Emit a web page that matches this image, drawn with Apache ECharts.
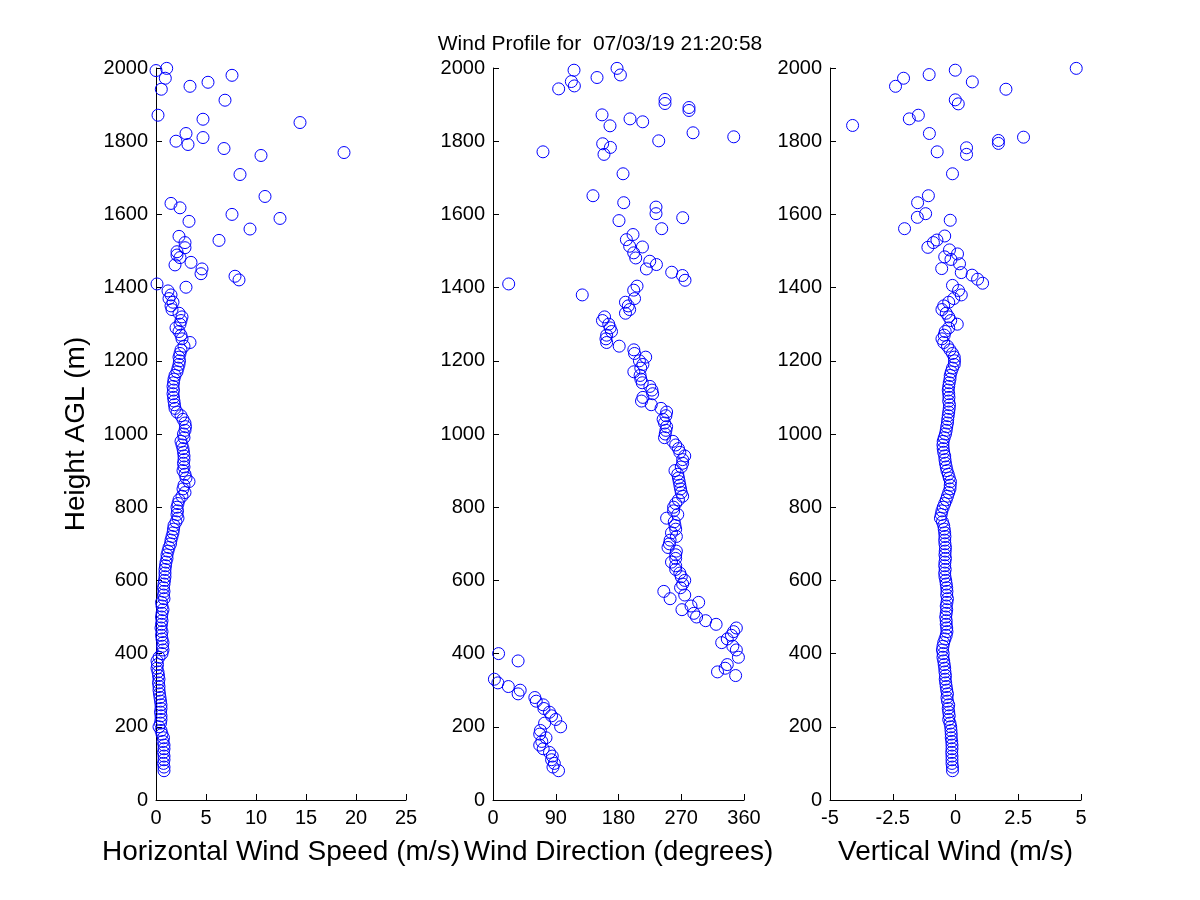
<!DOCTYPE html>
<html lang="en">
<head>
    <meta charset="UTF-8">
    <title>wind profile</title>
    <script src="https://cdn.jsdelivr.net/npm/echarts@6/dist/echarts.min.js"></script>
    <style>
        body { margin: 0; background: #fff; }
    </style>
</head>

<body>
<div id="main" style="width: 1200px;height:900px;"></div>
    <script type="text/javascript">
        // heights of the dense part of the profile (m AGL)
        var heights = [
            80, 90, 100, 110, 120, 130, 140, 150, 160, 170,
            180, 190, 200, 210, 220, 230, 240, 250, 260, 270,
            280, 290, 300, 310, 320, 330, 340, 350, 360, 370,
            380, 390, 400, 410, 420, 430, 440, 450, 460, 470,
            480, 490, 500, 510, 520, 530, 540, 550, 560, 570,
            580, 590, 600, 610, 620, 630, 640, 650, 660, 670,
            680, 690, 700, 710, 720, 730, 740, 750, 760, 770,
            780, 790, 800, 810, 820, 830, 840, 850, 860, 870,
            880, 890, 900, 910, 920, 930, 940, 950, 960, 970,
            980, 990, 1000, 1010, 1020, 1030, 1040, 1050, 1060, 1070,
            1080, 1090, 1100, 1110, 1120, 1130, 1140, 1150, 1160, 1170,
            1180, 1190, 1200, 1210, 1220, 1230, 1240, 1250, 1260, 1270,
            1280, 1290, 1300, 1310, 1320, 1330, 1340, 1350, 1360, 1370, 1380
        ];
        // horizontal wind speed (m/s)
        var speed = [
            0.8, 0.8, 0.75, 0.8, 0.8, 0.75, 0.8, 0.8, 0.7, 0.75,
            0.6, 0.5, 0.3, 0.45, 0.5, 0.5, 0.45, 0.5, 0.5, 0.45,
            0.4, 0.35, 0.3, 0.3, 0.25, 0.3, 0.25, 0.2, 0.1, 0.15,
            0.1, 0.3, 0.6, 0.7, 0.65, 0.7, 0.6, 0.55, 0.6, 0.5,
            0.55, 0.6, 0.55, 0.6, 0.7, 0.6, 0.55, 0.8, 0.75, 0.8,
            0.75, 0.8, 0.85, 0.9, 0.9, 0.9, 0.95, 1.0, 1.1, 1.1,
            1.2, 1.3, 1.45, 1.5, 1.6, 1.7, 1.75, 1.8, 2.0, 2.2,
            2.1, 2.15, 2.1, 2.2, 2.3, 2.6, 2.9, 2.7, 2.8, 3.3,
            3.0, 2.9, 2.7, 2.8, 2.75, 2.8, 2.8, 2.75, 2.7, 2.6,
            2.5, 2.8, 2.75, 2.9, 2.95, 2.9, 2.7, 2.5, 2.1, 1.9,
            1.85, 1.8, 1.75, 1.7, 1.75, 1.7, 1.75, 1.8, 1.9, 2.1,
            2.2, 2.3, 2.35, 2.3, 2.4, 2.5, 2.8, 3.4, 2.6, 2.5,
            2.3, 2.0, 2.4, 2.5, 2.6, 2.3, 1.6, 1.5, 1.7, 1.3, 1.5
        ];
        // wind direction (degrees)
        var direction = [
            94, 86, 88, 84, 85, 81, 72, 67, 70, 76,
            67, 68, 97, 74, 90, 84, 81, 73, 72, 62,
            60, 36, 39, 22, 7, 2, 348, 322, 333, 336,
            36, 352, 8, 349, 344, 328, 336, 342, 345, 349,
            320, 305, 292, 288, 271, 284, 295, 254, 275, 245,
            269, 272, 275, 270, 268, 262, 262, 256, 262, 262,
            263, 251, 253, 254, 263, 256, 262, 261, 260, 249,
            265, 259, 259, 262, 266, 272, 270, 269, 268, 267,
            266, 265, 261, 270, 272, 272, 275, 268, 266, 262,
            258, 246, 247, 248, 249, 246, 244, 248, 249, 241,
            227, 213, 215, 229, 228, 225, 214, 212, 211, 202,
            212, 215, 210, 219, 203, 202, 181, 163, 162, 163,
            170, 168, 166, 157, 160, 190, 196, 194, 190, 203, 128
        ];
        // vertical wind (m/s)
        var vertical = [
            -0.12, -0.12, -0.14, -0.14, -0.14, -0.15, -0.14, -0.14, -0.15, -0.17,
            -0.17, -0.18, -0.19, -0.22, -0.27, -0.25, -0.27, -0.29, -0.27, -0.32,
            -0.34, -0.32, -0.35, -0.37, -0.39, -0.41, -0.40, -0.42, -0.43, -0.45,
            -0.47, -0.50, -0.49, -0.52, -0.50, -0.47, -0.42, -0.37, -0.34, -0.35,
            -0.37, -0.37, -0.39, -0.37, -0.35, -0.37, -0.34, -0.32, -0.35, -0.34,
            -0.35, -0.37, -0.39, -0.42, -0.43, -0.41, -0.43, -0.42, -0.40, -0.42,
            -0.41, -0.40, -0.42, -0.43, -0.42, -0.43, -0.45, -0.47, -0.52, -0.60,
            -0.57, -0.54, -0.49, -0.43, -0.37, -0.32, -0.27, -0.22, -0.21, -0.20,
            -0.25, -0.29, -0.34, -0.37, -0.40, -0.42, -0.43, -0.47, -0.49, -0.50,
            -0.49, -0.45, -0.40, -0.37, -0.35, -0.32, -0.31, -0.29, -0.27, -0.25,
            -0.24, -0.27, -0.26, -0.27, -0.29, -0.27, -0.25, -0.22, -0.21, -0.17,
            -0.12, -0.05, -0.04, -0.05, -0.12, -0.22, -0.32, -0.47, -0.54, -0.45,
            -0.41, -0.27, 0.07, -0.19, -0.27, -0.37, -0.54, -0.47, -0.27, -0.07, 0.23
        ];
        // scattered returns above ~1390 m: [value, height]
        var speedUpper = [
            [1.2, 1391], [3.0, 1401], [0.1, 1410], [8.3, 1421], [7.9, 1431], [4.5, 1438],
            [4.6, 1451], [1.9, 1462], [3.5, 1469], [2.4, 1482], [2.1, 1489], [2.1, 1498],
            [2.9, 1509], [2.9, 1523], [6.3, 1529], [2.3, 1540], [9.4, 1560], [3.3, 1581],
            [12.4, 1589], [7.6, 1600], [2.4, 1618], [1.5, 1630], [10.9, 1649], [8.4, 1709],
            [10.5, 1761], [18.8, 1769], [6.8, 1780], [3.2, 1791], [2.0, 1800], [4.7, 1810],
            [3.0, 1821], [14.4, 1851], [4.7, 1860], [0.2, 1871], [6.9, 1912], [0.53, 1942],
            [3.4, 1950], [5.2, 1961], [0.93, 1972], [7.6, 1980], [0, 1993], [1.07, 1999]
        ];
        var directionUpper = [
            [201.8, 1393], [206.6, 1404], [22.5, 1410], [275.4, 1420], [271.7, 1433], [256.3, 1442],
            [220, 1451], [234.4, 1463], [224.8, 1472], [204.7, 1481], [201.8, 1495], [214.3, 1511],
            [196, 1513], [191.3, 1531], [200.8, 1545], [242, 1561], [180.7, 1583], [272.1, 1591],
            [233.8, 1602], [233.8, 1620], [187.5, 1632], [143.4, 1651], [186.5, 1711], [159.2, 1764],
            [71.7, 1771], [168.4, 1783], [157.3, 1793], [237.7, 1801], [345.3, 1812], [286.9, 1823],
            [167.8, 1842], [214.7, 1853], [196.5, 1861], [156.4, 1872], [281.1, 1884], [281.1, 1892],
            [246.7, 1903], [246.7, 1914], [94.2, 1943], [116.7, 1951], [112.4, 1963], [149.2, 1974],
            [182.7, 1981], [116.2, 1994], [177.9, 1999]
        ];
        var verticalUpper = [
            [0.12, 1392], [-0.12, 1406], [1.08, 1412], [0.88, 1423], [0.66, 1434], [0.23, 1441],
            [-0.55, 1452], [0.16, 1465], [-0.18, 1477], [-0.43, 1484], [0.08, 1492], [-0.24, 1503],
            [-1.1, 1510], [-0.88, 1523], [-0.74, 1530], [-0.43, 1541], [-2.03, 1561], [-0.21, 1584],
            [-1.52, 1592], [-1.19, 1602], [-1.51, 1632], [-1.08, 1651], [-0.12, 1711], [0.44, 1764],
            [-0.73, 1771], [0.44, 1782], [1.71, 1794], [1.71, 1802], [2.71, 1811], [-1.04, 1821],
            [-4.1, 1843], [-1.84, 1861], [-1.48, 1871], [0.11, 1902], [-0.01, 1913], [2.01, 1942],
            [-2.39, 1950], [0.67, 1962], [-2.07, 1972], [-1.05, 1982], [-0.01, 1994], [4.81, 1999]
        ];

        var xNames = ['Horizontal Wind Speed (m/s)', 'Wind Direction (degrees)', 'Vertical Wind (m/s)'];
        var xMin = [0, 0, -5];
        var xMax = [25, 360, 5];
        var xStep = [5, 90, 2.5];

        var font = "'Liberation Sans', Arial, sans-serif";
        var myChart = echarts.init(document.getElementById('main'));

        function pairs(vals, upper) {
            var out = [];
            for (var i = 0; i < heights.length; i++) {
                out.push([vals[i], heights[i]]);
            }
            return out.concat(upper);
        }

        var axisCommon = {
            axisLine: {show: true, onZero: false, lineStyle: {color: '#000', width: 1}},
            axisTick: {show: true, inside: true, length: 6, lineStyle: {color: '#000'}},
            axisLabel: {
                color: '#000', fontSize: 20, fontFamily: font, margin: 8,
                formatter: function (v) { return String(v); }
            },
            splitLine: {show: false}
        };

        var grids = [
            {left: 156, width: 250, top: 68, height: 732},
            {left: 493, width: 251, top: 68, height: 732},
            {left: 830, width: 251, top: 68, height: 732}
        ];
        var xAxes = [], yAxes = [], series = [];
        var seriesData = [
            pairs(speed, speedUpper),
            pairs(direction, directionUpper),
            pairs(vertical, verticalUpper)
        ];
        for (var g = 0; g < 3; g++) {
            xAxes.push(Object.assign({}, axisCommon, {
                type: 'value', gridIndex: g,
                min: xMin[g], max: xMax[g], interval: xStep[g],
                name: xNames[g], nameLocation: 'middle', nameGap: 38,
                nameTextStyle: {color: '#000', fontSize: 28, fontFamily: font}
            }));
            var y = Object.assign({}, axisCommon, {
                type: 'value', gridIndex: g,
                min: 0, max: 2000, interval: 200
            });
            if (g === 0) {
                y.name = 'Height AGL (m)';
                y.nameLocation = 'middle';
                y.nameGap = 66;
                y.nameRotate = 90;
                y.nameTextStyle = {color: '#000', fontSize: 28, fontFamily: font};
            }
            yAxes.push(y);
            series.push({
                type: 'scatter',
                xAxisIndex: g, yAxisIndex: g,
                data: seriesData[g],
                symbol: 'circle',
                symbolSize: 12,
                itemStyle: {color: 'rgba(0,0,0,0)', borderColor: '#0000ff', borderWidth: 1, opacity: 1},
                emphasis: {disabled: true},
                clip: false
            });
        }

        option = {
            backgroundColor: '#fff',
            animation: false,
            grid: grids,
            xAxis: xAxes,
            yAxis: yAxes,
            series: series,
            graphic: [{
                type: 'text', left: 'center', top: 34,
                style: {
                    text: 'Wind Profile for  07/03/19 21:20:58',
                    fill: '#000', fontSize: 21, fontFamily: font
                }
            }]
        };
        myChart.setOption(option);
    </script>

</body>
</html>
